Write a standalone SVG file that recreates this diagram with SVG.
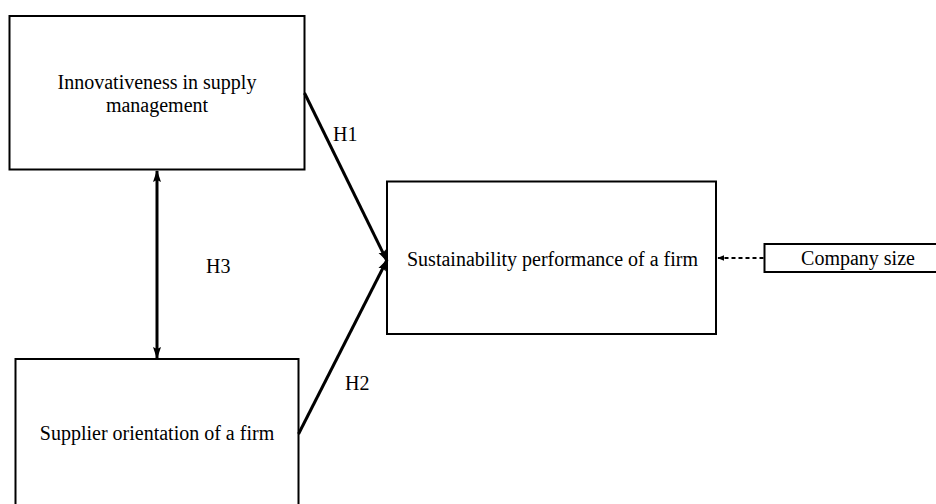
<svg xmlns="http://www.w3.org/2000/svg" width="936" height="504" viewBox="0 0 936 504">
  <style>
    .box { fill: #ffffff; stroke: #000000; stroke-width: 2; }
    .lbl { font-family: "Liberation Serif", "Times New Roman", serif; font-size: 20px; fill: #000000; }
    .link { fill: none; stroke: #000000; stroke-width: 3; }
    .dash { fill: none; stroke: #000000; stroke-width: 2; stroke-dasharray: 4 3; }
  </style>
  <defs>
    <marker id="head" viewBox="0 0 12 10" refX="11" refY="5" markerWidth="12" markerHeight="10" markerUnits="userSpaceOnUse" orient="auto-start-reverse">
      <path d="M0,1 L12,5 L0,9 L2,5 Z" fill="#000000"/>
    </marker>
    <marker id="small" viewBox="0 0 10 10" refX="9" refY="5" markerWidth="7" markerHeight="7" markerUnits="userSpaceOnUse" orient="auto">
      <path d="M0,1 L10,5 L0,9 Z" fill="#000000"/>
    </marker>
  </defs>

  <g id="innovativeness">
    <rect class="box" x="9.5" y="16" width="295" height="153.5"/>
    <text class="lbl" x="157" y="89" text-anchor="middle">Innovativeness in supply</text>
    <text class="lbl" x="157" y="112" text-anchor="middle">management</text>
  </g>

  <g id="supplier">
    <rect class="box" x="15.5" y="359" width="283" height="160"/>
    <text class="lbl" x="157" y="440" text-anchor="middle">Supplier orientation of a firm</text>
  </g>

  <g id="sustainability">
    <rect class="box" x="387" y="181.5" width="329" height="152.5"/>
    <text class="lbl" x="407" y="266">Sustainability performance of a firm</text>
  </g>

  <g id="company-size">
    <rect class="box" x="764.5" y="244" width="180" height="28"/>
    <text class="lbl" x="858" y="265" text-anchor="middle">Company size</text>
  </g>

  <g id="connectors">
    <line class="link" x1="304.5" y1="93" x2="387" y2="261" marker-end="url(#head)"/>
    <text class="lbl" x="333" y="141">H1</text>
    <line class="link" x1="298.5" y1="434" x2="387" y2="260" marker-end="url(#head)"/>
    <text class="lbl" x="345" y="390">H2</text>
    <line class="link" x1="157" y1="171" x2="157" y2="358" marker-start="url(#head)" marker-end="url(#head)"/>
    <text class="lbl" x="206" y="273">H3</text>
    <line class="dash" x1="763.5" y1="258" x2="718" y2="258" marker-end="url(#small)"/>
  </g>
</svg>
